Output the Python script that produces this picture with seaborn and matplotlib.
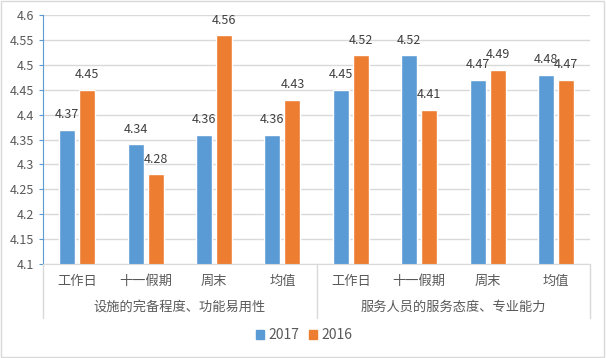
import pandas as pd
import matplotlib.pyplot as plt
import seaborn as sns

# Data
groups = ['设施的完备程度、功能易用性', '服务人员的服务态度、专业能力']
subcats = ['工作日', '十一假期', '周末', '均值']
years = ['2017', '2016']
vals_2017 = [4.37, 4.34, 4.36, 4.36, 4.45, 4.52, 4.47, 4.48]
vals_2016 = [4.45, 4.28, 4.56, 4.43, 4.52, 4.41, 4.49, 4.47]

colors = ['#5B9BD5', '#ED7D31']

rows = []
for i in range(len(groups) * len(subcats)):
    rows.append({'pos': i, 'year': '2017', 'score': vals_2017[i]})
    rows.append({'pos': i, 'year': '2016', 'score': vals_2016[i]})
df = pd.DataFrame(rows)

sns.set_style('white')
plt.rcParams['font.family'] = ['Noto Sans CJK SC', 'DejaVu Sans']

fig = plt.figure(figsize=(6.06, 3.58), dpi=100)
ax = fig.add_axes([0.071, 0.2626, 0.903, 0.6954])

sns.barplot(data=df, x='pos', y='score', hue='year', hue_order=years,
            palette=colors, width=0.585, gap=0.2, ax=ax, legend=False,
            saturation=1)

for cont in ax.containers:
    ax.bar_label(cont, fmt='%.2f', padding=6, fontsize=9, color='#404040')

ax.set_ylim(4.1, 4.6)
yt = [4.1 + 0.05 * k for k in range(11)]
ax.set_yticks(yt)
ax.set_yticklabels([f'{v:g}' for v in [round(t, 2) for t in yt]],
                   fontsize=9, color='#595959')
ax.set_xlim(-0.5, 7.5)
ax.grid(axis='y', color='#D9D9D9', linewidth=1)
ax.set_axisbelow(True)
ax.tick_params(axis='y', length=3, color='#5B9BD5', direction='out', left=True)
ax.tick_params(axis='x', length=0, pad=8)
ax.set_xticks(range(8))
ax.set_xticklabels(subcats * 2, fontsize=9.5, color='#595959')
ax.set_xlabel('')
ax.set_ylabel('')
for s in ['top', 'right']:
    ax.spines[s].set_visible(False)
ax.spines['left'].set_color('#5B9BD5')
ax.spines['bottom'].set_color('#D9D9D9')

# group labels and separators
for gi, g in enumerate(groups):
    ax.text(gi * 4 + 1.5, -0.175, g, transform=ax.get_xaxis_transform(),
            ha='center', va='center', fontsize=9.5, color='#595959')
for xs in [-0.5, 3.5, 7.5]:
    ax.plot([xs, xs], [0, -0.215], transform=ax.get_xaxis_transform(),
            color='#D9D9D9', linewidth=1, clip_on=False)

handles = [plt.Rectangle((0, 0), 1, 1, color=c) for c in colors]
fig.legend(handles, years, loc='center', bbox_to_anchor=(0.502, 0.064),
           ncol=2, frameon=False, fontsize=10, handlelength=0.6,
           handleheight=0.6, columnspacing=0.7, handletextpad=0.3,
           labelcolor='#595959')

fig.patches.append(plt.Rectangle((0.002, 0.003), 0.995, 0.993,
                                 transform=fig.transFigure, fill=False,
                                 edgecolor='#D9D9D9', linewidth=1))

plt.savefig('out.png', dpi=100)
